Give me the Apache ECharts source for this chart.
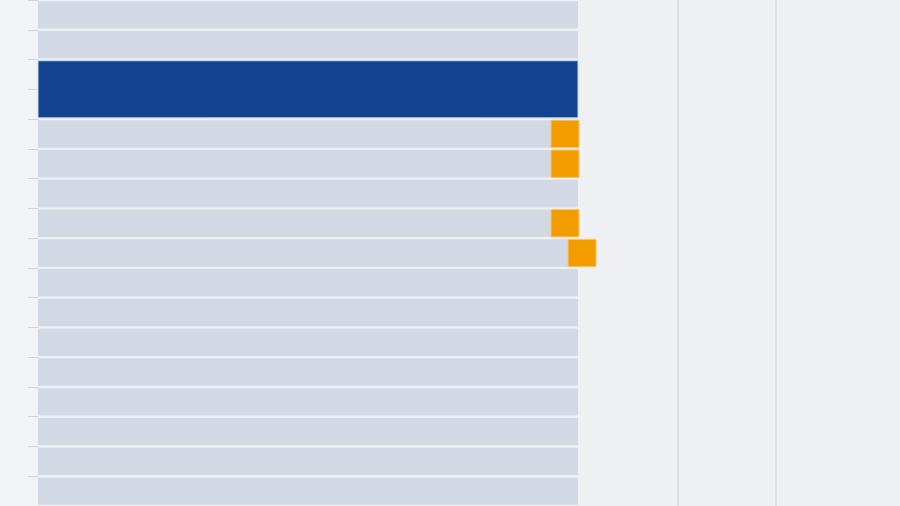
<!DOCTYPE html>
<html>
<head>
<meta charset="utf-8">
<script src="https://cdn.jsdelivr.net/npm/echarts@6/dist/echarts.min.js"></script>
<style>
html,body{margin:0;padding:0;background:#f2f3f6;}
#chart{width:900px;height:506px;}
</style>
</head>
<body>
<div id="chart"></div>
<script>
// Rows of the timeline (labels are outside the visible crop)
const categories = ['Row 01','Row 02','Row 03','Row 04','Row 05','Row 06','Row 07','Row 08','Row 09',
                    'Row 10','Row 11','Row 12','Row 13','Row 14','Row 15','Row 16','Row 17'];
// End of each grey track bar (x units)
const trackEnd = [54, 54, 54, 54, 54, 54, 54, 54, 54, 54, 54, 54, 54, 54, 54, 54, 54];
// Highlighted block: first row, last row, x start, x end
const highlightRows = [[2, 3, 0, 54]];
// Milestone markers: row index, x start, x end
const milestoneRow = [4, 5, 7, 8];
const milestoneStart = [51.3, 51.3, 51.3, 53.0];
const milestoneEnd = [54.1, 54.1, 54.1, 55.8];
// Vertical reference lines (x units)
const refLines = [63.95, 73.8];

const milestones = milestoneRow.map((r, i) => [r, milestoneStart[i], milestoneEnd[i]]);

const chart = echarts.init(document.getElementById('chart'), null, {renderer: 'canvas'});
const GAP = 0.92;
chart.setOption({
  backgroundColor: '#f2f3f6',
  animation: false,
  grid: {left: 38, top: 0, right: 0, bottom: 0, show: true, backgroundColor: '#eef0f4', borderWidth: 0},
  xAxis: {
    type: 'value', min: 0, max: 86.2, show: false,
    splitLine: {show: false}
  },
  yAxis: {
    type: 'category', data: categories, inverse: true,
    axisLine: {show: false},
    axisTick: {show: true, length: 10, lineStyle: {color: '#cfd3da', width: 1}},
    axisLabel: {show: false},
    splitLine: {show: false}
  },
  series: [
    {
      type: 'bar', name: 'track', data: trackEnd, barCategoryGap: '8%', z: 2,
      itemStyle: {color: '#d3d9e4'}, silent: true,
      markLine: {
        silent: true, symbol: 'none', label: {show: false},
        lineStyle: {color: '#d6dae1', width: 1.5, type: 'solid'},
        data: refLines.map(v => ({xAxis: v}))
      }
    },
    {
      type: 'custom', name: 'highlight', data: highlightRows, z: 5,
      encode: {x: [2, 3], y: [0, 1]},
      renderItem: function (params, api) {
        const band = api.size([0, 1])[1];
        const a = api.coord([api.value(2), api.value(0)]);
        const b = api.coord([api.value(3), api.value(1)]);
        const g = band * (1 - GAP) / 2;
        return {
          type: 'rect',
          shape: {x: a[0], y: a[1] - band / 2 + g, width: b[0] - a[0], height: (b[1] - a[1]) + band - 2 * g},
          style: {fill: '#13438f', stroke: '#c6d9f2', lineWidth: 1}
        };
      }
    },
    {
      type: 'custom', name: 'milestone', data: milestones, z: 6,
      encode: {x: [1, 2], y: 0},
      renderItem: function (params, api) {
        const band = api.size([0, 1])[1];
        const a = api.coord([api.value(1), api.value(0)]);
        const b = api.coord([api.value(2), api.value(0)]);
        const h = band * GAP;
        return {
          type: 'rect',
          shape: {x: a[0], y: a[1] - h / 2, width: b[0] - a[0], height: h},
          style: {fill: '#f29c00', stroke: '#f8c76e', lineWidth: 1}
        };
      }
    }
  ]
});
</script>
</body>
</html>
